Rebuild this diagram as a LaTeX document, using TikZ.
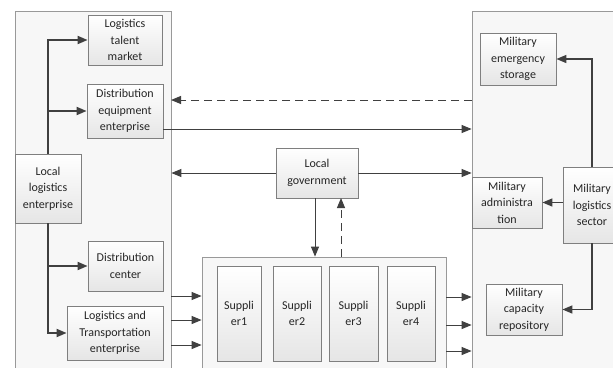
\documentclass[tikz,border=0pt]{standalone}
\usepackage{fontspec}
\setmainfont{Carlito}
\usetikzlibrary{arrows.meta,calc}
\definecolor{boxline}{HTML}{7F7F7F}
\definecolor{panelfill}{HTML}{F7F7F7}
\definecolor{arrowcol}{HTML}{404040}
\tikzset{
  box/.style={draw=boxline, line width=0.8pt, top color=white, bottom color=black!10, align=center, inner sep=0pt, text=black!85, font=\fontsize{12}{16.5}\selectfont},
  panel/.style={draw=boxline!80, line width=0.8pt, fill=panelfill, inner sep=0pt},
  tip/.style={-{Triangle[length=10pt,width=8pt]}},
  conn/.style={tip, draw=arrowcol, line width=1pt},
  tree/.style={tip, draw=arrowcol, line width=1.8pt},
  dashline/.style={dash pattern=on 8pt off 5pt}
}
\begin{document}
\begin{tikzpicture}[x=1pt,y=-1pt]
\useasboundingbox (0,0) rectangle (613,367);
\clip (0,0) rectangle (613,367);
\fill[white] (0,0) rectangle (613,367);
% panels
\node[panel, minimum width=156pt, minimum height=380pt] (lp) at (93,201) {};
\node[panel, minimum width=160pt, minimum height=380pt] (rp) at (552,201) {};
\node[panel, minimum width=244pt, minimum height=130pt] (cont) at (324,322) {};
% left boxes
\node[box, minimum width=74pt, minimum height=50pt] (talent) at (125,40) {Logistics\\talent\\market};
\node[box, minimum width=76pt, minimum height=54pt] (equip) at (125,111) {Distribution\\equipment\\enterprise};
\node[box, minimum width=66pt, minimum height=69pt] (local) at (48,188.5) {Local\\logistics\\enterprise};
\node[box, minimum width=75pt, minimum height=50pt] (dcenter) at (125.5,266) {Distribution\\center};
\node[box, minimum width=96pt, minimum height=54pt] (ltrans) at (115,333) {Logistics and\\Transportation\\enterprise};
% middle
\node[box, minimum width=82pt, minimum height=50pt] (gov) at (317,173) {Local\\government};
\node[box, minimum width=44pt, minimum height=95pt] (s1) at (239,313.5) {Suppli\\er1};
\node[box, minimum width=48pt, minimum height=95pt] (s2) at (297,313.5) {Suppli\\er2};
\node[box, minimum width=49pt, minimum height=95pt] (s3) at (353.5,313.5) {Suppli\\er3};
\node[box, minimum width=48pt, minimum height=95pt] (s4) at (411,313.5) {Suppli\\er4};
% right boxes
\node[box, minimum width=76pt, minimum height=52pt] (mes) at (518,59) {Military\\emergency\\storage};
\node[box, minimum width=70pt, minimum height=51pt] (madmin) at (507,202.5) {Military\\administra\\tion};
\node[box, minimum width=58pt, minimum height=76pt] (msector) at (592,205) {Military\\logistics\\sector};
\node[box, minimum width=76pt, minimum height=51pt] (mcap) at (524,309.5) {Military\\capacity\\repository};
% tree from local logistics enterprise
\draw[tree] (local.north) |- (talent.west);
\draw[tree] (local.north |- equip.west) -- (equip.west);
\draw[tree] (local.south) |- (ltrans.west);
\draw[tree] (local.south |- dcenter.west) -- (dcenter.west);
% horizontal links between panels
\coordinate (d1) at (472,100);
\coordinate (d2) at (171,100);
\draw[conn, dashline] (d1) -- (d2);
\coordinate (a1) at (163,129);
\draw[conn] (a1) -- (rp.west |- a1);
\draw[conn] (gov.west) -- (lp.east |- gov.west);
\draw[conn] (gov.east) -- (rp.west |- gov.east);
% government and suppliers
\coordinate (g1) at (315,198);
\coordinate (g2) at (341,198);
\draw[conn] (g1) -- (g1 |- cont.north);
\draw[conn, dashline] (g2 |- cont.north) -- (g2);
% into supplier container
\foreach \y [count=\i] in {296,320,345} {
  \coordinate (li\i) at (171,\y);
  \draw[conn] (li\i) -- (cont.west |- li\i);
}
\foreach \y [count=\i] in {297,325,351} {
  \coordinate (ro\i) at (446,\y);
  \draw[conn] (ro\i) -- (rp.west |- ro\i);
}
% military sector
\draw[conn, line width=1.4pt] (msector.north) |- (mes.east);
\draw[conn, line width=1.4pt] (msector.west |- madmin.east) -- (madmin.east);
\draw[conn, line width=1.4pt] (msector.south) |- (mcap.east);
\end{tikzpicture}
\end{document}
